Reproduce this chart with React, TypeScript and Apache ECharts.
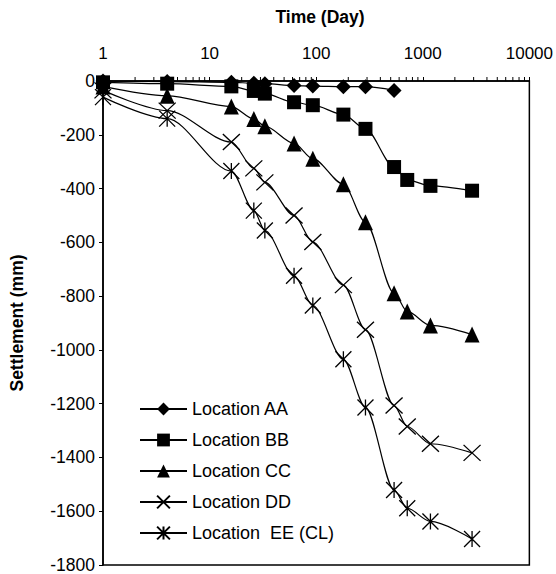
import React, { useEffect, useRef } from "react";
import * as echarts from "echarts";

const times = [1, 4, 16, 26, 33, 62, 93, 180, 290, 538, 715, 1180, 2900];
const seriesNames = [
  "Location AA",
  "Location BB",
  "Location CC",
  "Location DD",
  "Location  EE (CL)",
];
const aa = [0, -2, -5, -8, -10, -17, -19, -21, -21, -35];
const bb = [-5, -10, -20, -37, -47, -79, -90, -125, -178, -320, -368, -390, -408];
const cc = [-20, -55, -95, -141, -168, -232, -289, -384, -525, -789, -857, -909, -943];
const dd = [-35, -110, -227, -325, -377, -500, -599, -759, -925, -1207, -1285, -1349, -1383];
const ee = [-60, -140, -335, -482, -556, -724, -835, -1035, -1214, -1521, -1589, -1638, -1703];
const xTickLabels = [1, 10, 100, 1000, 10000];
const minorTickValues = [
  2, 3, 4, 5, 6, 7, 8, 9,
  20, 30, 40, 50, 60, 70, 80, 90,
  200, 300, 400, 500, 600, 700, 800, 900,
  2000, 3000, 4000, 5000, 6000, 7000, 8000, 9000,
];

const FONT = "'Liberation Sans', Arial, Helvetica, sans-serif";

export default function App() {
  const ref = useRef<HTMLDivElement>(null);
  useEffect(() => {
    if (!ref.current) return;
    const chart = echarts.init(ref.current, null, { renderer: "svg" });
    const pair = (vals: number[]) => vals.map((v, i) => [times[i], v]);
    const symbols = [
      { symbol: "diamond", size: 15 },
      { symbol: "rect", size: 14 },
      { symbol: "triangle", size: [15, 16] },
      { symbol: "path://M0,0L10,10M10,0L0,10", size: [17, 16] },
      { symbol: "path://M0,0L10,10M10,0L0,10M5,0L5,10", size: [16, 16] },
    ];
    const datas = [aa, bb, cc, dd, ee];
    const lineSeries = datas.map((d, i) => ({
      type: "line",
      name: seriesNames[i],
      data: pair(d),
      symbol: symbols[i].symbol,
      symbolSize: symbols[i].size,
      smooth: 0.3,
      smoothMonotone: "x",
      lineStyle: { color: "#000", width: 1.2 },
      itemStyle: {
        color: "#000",
        borderColor: "#000",
        borderWidth: i >= 3 ? 1.3 : 0,
      },
      z: 3,
    }));
    const option: any = {
      animation: false,
      backgroundColor: "#fff",
      textStyle: { fontFamily: FONT, color: "#000" },
      grid: {
        left: 97,
        top: 81,
        right: 25,
        bottom: 5,
        show: true,
        borderColor: "#000",
        borderWidth: 1.5,
        backgroundColor: "transparent",
      },
      graphic: [
        {
          type: "text",
          x: 320,
          y: 17,
          style: {
            text: "Time (Day)",
            fontFamily: FONT,
            fontSize: 17.5,
            fontWeight: "bold",
            fill: "#000",
            textAlign: "center",
            textVerticalAlign: "middle",
          },
        },
      ],
      legend: {
        data: seriesNames,
        orient: "vertical",
        left: 134,
        top: 395,
        itemWidth: 47,
        itemHeight: 16,
        itemGap: 13,
        textStyle: { fontFamily: FONT, fontSize: 18, color: "#000" },
      },
      xAxis: {
        type: "log",
        logBase: 10,
        min: 1,
        max: 10000,
        position: "top",
        axisLine: { show: true, lineStyle: { color: "#000", width: 1.5 } },
        axisTick: { show: true, inside: false, length: 4, lineStyle: { color: "#000" } },
        splitLine: { show: false },
        axisLabel: {
          margin: 19,
          fontSize: 17,
          fontFamily: FONT,
          color: "#000",
          formatter: (v: number) =>
            xTickLabels.indexOf(Math.round(v)) >= 0 ? String(Math.round(v)) : "",
        },
      },
      yAxis: {
        type: "value",
        min: -1800,
        max: 0,
        interval: 200,
        name: "Settlement (mm)",
        nameLocation: "middle",
        nameGap: 77,
        nameTextStyle: { fontFamily: FONT, fontSize: 17.5, fontWeight: "bold", color: "#000" },
        axisLine: { show: true, lineStyle: { color: "#000", width: 1.5 } },
        axisTick: { show: true, inside: false, length: 4, lineStyle: { color: "#000" } },
        splitLine: { show: false },
        axisLabel: {
          margin: 8,
          fontSize: 17.5,
          fontFamily: FONT,
          color: "#000",
          formatter: (v: number) => String(v),
        },
      },
      series: [
        ...lineSeries,
        {
          type: "custom",
          name: "minor",
          clip: false,
          silent: true,
          data: minorTickValues.map((v) => [v, 0]),
          renderItem: (params: any, api: any) => {
            const p = api.coord([api.value(0), 0]);
            return {
              type: "line",
              shape: { x1: p[0], y1: p[1], x2: p[0], y2: p[1] - 4 },
              style: { stroke: "#000", lineWidth: 1 },
            };
          },
          z: 1,
        },
      ],
    };
    chart.setOption(option);
    return () => chart.dispose();
  }, []);
  return (
    <div
      ref={ref}
      style={{ position: "fixed", left: 0, top: 0, width: 556, height: 574 }}
    />
  );
}
